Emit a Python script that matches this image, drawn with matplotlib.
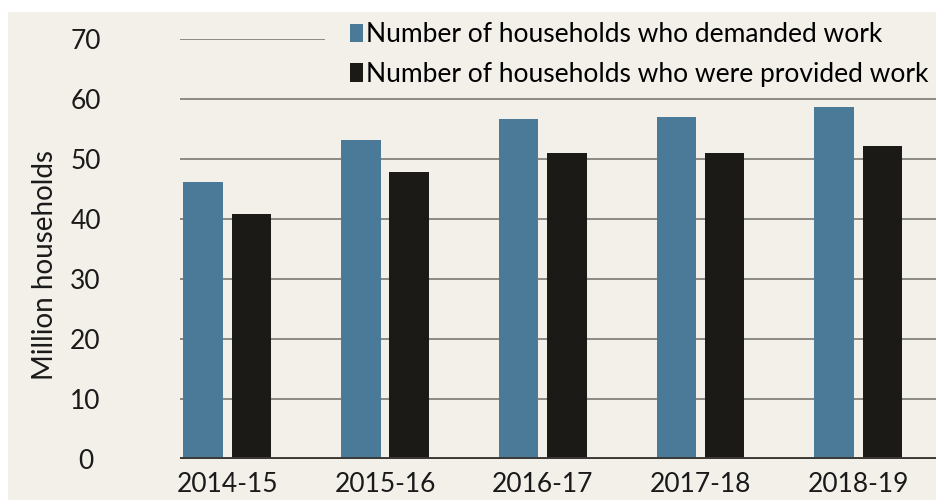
import numpy as np
import matplotlib.pyplot as plt
from matplotlib.patches import Rectangle

years = ['2014-15', '2015-16', '2016-17', '2017-18', '2018-19']
demanded = [46.2, 53.2, 56.7, 57.0, 58.7]
provided = [40.8, 47.8, 51.0, 51.0, 52.2]
yticks = [0, 10, 20, 30, 40, 50, 60, 70]

bg = '#f3f0ea'
blue = '#4b7a99'
dark = '#1c1a17'
grid_c = '#8c8a84'

plt.rcParams['font.family'] = ['Lato', 'DejaVu Sans']

fig = plt.figure(figsize=(9.37, 5), dpi=100)
fig.patch.set_facecolor('white')
fig.patches.append(Rectangle((8 / 937, 0), 1, 488 / 500, transform=fig.transFigure,
                             facecolor=bg, edgecolor='none', zorder=-10))

ax = fig.add_axes([180 / 937, 41 / 500, 757 / 937, 420 / 500])
ax.set_facecolor('none')

x = np.arange(len(years))
w = 0.25
off = 0.153

# grid lines, top one is cut short by the legend
for t in yticks[1:]:
    xmax = 0.19 if t == 70 else 1.0
    ax.axhline(t, xmin=0, xmax=xmax, color=grid_c, lw=1.4, zorder=1)
ax.axhline(0, color='#3a3936', lw=2.8, zorder=3)

ax.bar(x - off, demanded, w, color=blue, zorder=2,
       label='Number of households who demanded work')
ax.bar(x + off, provided, w, color=dark, zorder=2,
       label='Number of households who were provided work')

ax.set_xlim(-0.30, 4.50)
ax.set_ylim(0, 70)
ax.set_xticks(x)
ax.set_xticklabels(years, fontsize=19, color='#1a1a1a')
ax.set_yticks(yticks)
ax.set_yticklabels([str(t) for t in yticks], fontsize=19, color='#1a1a1a', ha='center')
ax.tick_params(axis='y', length=0, pad=68)
ax.tick_params(axis='x', length=0, pad=9)
for s in ax.spines.values():
    s.set_visible(False)

fig.text(45 / 937, 0.47, 'Million households', rotation=90, fontsize=20,
         color='#1a1a1a', ha='center', va='center')

leg = ax.legend(loc='upper left', bbox_to_anchor=((350 - 180) / 757, 1.04),
                frameon=False, fontsize=19, handlelength=0.5, handleheight=0.7,
                handletextpad=0.1, labelspacing=0.55, borderaxespad=0, borderpad=0)

fig.savefig('out.png', dpi=100, facecolor=fig.get_facecolor())
